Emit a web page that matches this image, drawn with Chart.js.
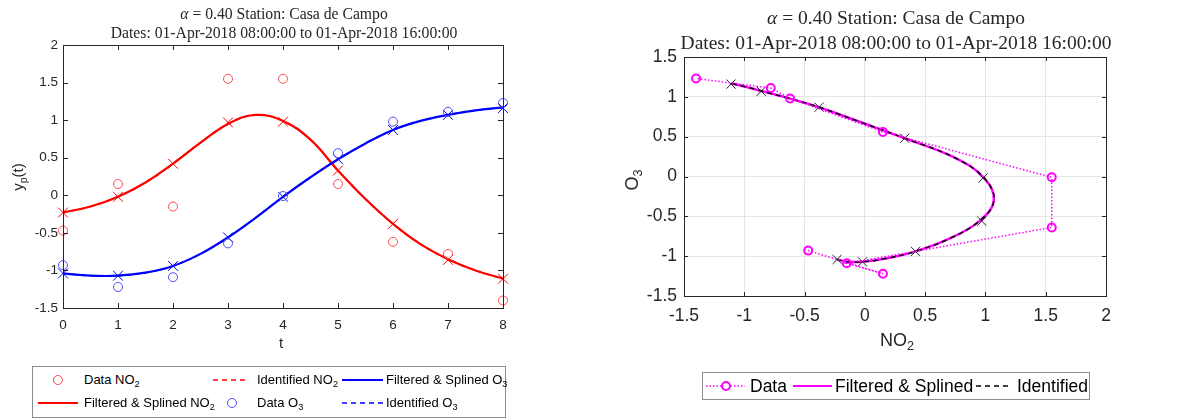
<!DOCTYPE html>
<html>
<head>
<meta charset="utf-8">
<script src="https://cdn.jsdelivr.net/npm/chart.js@4.4.1/dist/chart.umd.min.js"></script>
<style>
  body { margin: 0; background: #fff; width: 1185px; height: 419px; position: relative; overflow: hidden; font-family: "Liberation Sans", Arial, sans-serif; color: #262626; }
  canvas { position: absolute; }
  .ttl { position: absolute; font-family: "Liberation Serif", "Times New Roman", serif; color: #262626; text-align: center; white-space: nowrap; transform: translateX(-50%); }
  .lbl { position: absolute; white-space: nowrap; color: #262626; font-weight: normal; }
  .lbl sub { font-size: 70%; vertical-align: -0.35em; line-height: 0; }
  .rot { width: 60px; height: 20px; line-height: 20px; text-align: center; transform: rotate(-90deg); transform-origin: 30px 10px; }
  .legend { position: absolute; border: 1px solid #8c8c8c; background: #fff; }
  .item { position: absolute; white-space: nowrap; color: #000; display: flex; align-items: center; }
  .item sub { font-size: 70%; vertical-align: -0.35em; line-height: 0; }
</style>
</head>
<body>
<canvas id="leftChart" width="540" height="360" style="left:0;top:0"></canvas>
<canvas id="rightChart" width="585" height="360" style="left:600px;top:0"></canvas>

<!-- titles -->
<div class="ttl" style="left:284px;top:4px;font-size:15.7px;line-height:19px"><i>α</i> = 0.40 Station: Casa de Campo<br>Dates: 01-Apr-2018 08:00:00 to 01-Apr-2018 16:00:00</div>
<div class="ttl" style="left:896px;top:5px;font-size:19.5px;line-height:25px"><i>α</i> = 0.40 Station: Casa de Campo<br>Dates: 01-Apr-2018 08:00:00 to 01-Apr-2018 16:00:00</div>

<!-- axis labels -->
<div class="lbl" style="left:279px;top:334px;font-size:15px">t</div>
<div class="lbl rot" style="left:-12px;top:167px;font-size:15px">y<sub>p</sub>(t)</div>
<div class="lbl" style="left:880px;top:330px;font-size:18px">NO<sub>2</sub></div>
<div class="lbl rot" style="left:602px;top:170px;font-size:18px">O<sub>3</sub></div>

<!-- left legend -->
<div class="legend" style="left:32px;top:366px;width:472px;height:50px">
  <div class="item" style="left:4px;top:5px;font-size:13px"><svg width="44" height="14"><circle cx="21" cy="7" r="4.5" fill="none" stroke="#ff4d4d" stroke-width="1"/></svg><span style="margin-left:3px">Data NO<sub>2</sub></span></div>
  <div class="item" style="left:4px;top:28px;font-size:13px"><svg width="44" height="14"><line x1="1" y1="7" x2="41" y2="7" stroke="#ff0000" stroke-width="2"/></svg><span style="margin-left:3px">Filtered &amp; Splined NO<sub>2</sub></span></div>
  <div class="item" style="left:180px;top:5px;font-size:13px"><svg width="40" height="14"><line x1="0" y1="7" x2="36" y2="7" stroke="#ff0000" stroke-width="1.5" stroke-dasharray="5,4"/></svg><span style="margin-left:4px">Identified NO<sub>2</sub></span></div>
  <div class="item" style="left:180px;top:28px;font-size:13px"><svg width="40" height="14"><circle cx="19" cy="7" r="4.5" fill="none" stroke="#4d4dff" stroke-width="1"/></svg><span style="margin-left:4px">Data O<sub>3</sub></span></div>
  <div class="item" style="left:308px;top:5px;font-size:13px"><svg width="44" height="14"><line x1="1" y1="7" x2="42" y2="7" stroke="#0000ff" stroke-width="2"/></svg><span style="margin-left:1px">Filtered &amp; Splined O<sub>3</sub></span></div>
  <div class="item" style="left:308px;top:28px;font-size:13px"><svg width="44" height="14"><line x1="1" y1="7" x2="42" y2="7" stroke="#0000ff" stroke-width="1.5" stroke-dasharray="5,4"/></svg><span style="margin-left:1px">Identified O<sub>3</sub></span></div>
</div>

<!-- right legend -->
<div class="legend" style="left:702px;top:372px;width:386px;height:26px">
  <div class="item" style="left:3px;top:2px;font-size:17.5px"><svg width="40" height="22"><line x1="0" y1="11" x2="39" y2="11" stroke="#ff00ff" stroke-width="1.5" stroke-dasharray="1.5,2"/><circle cx="20" cy="11" r="4" fill="#fff" stroke="#ff00ff" stroke-width="2"/></svg><span style="margin-left:4px">Data</span></div>
  <div class="item" style="left:89px;top:2px;font-size:17.5px"><svg width="42" height="22"><line x1="1" y1="11" x2="40" y2="11" stroke="#ff00ff" stroke-width="2"/></svg><span style="margin-left:1px">Filtered &amp; Splined</span></div>
  <div class="item" style="left:272px;top:2px;font-size:17.5px"><svg width="40" height="22"><line x1="1" y1="11" x2="35" y2="11" stroke="#000" stroke-width="1.5" stroke-dasharray="5,4"/></svg><span style="margin-left:2px">Identified</span></div>
</div>

<script>
// values
const tSteps = [0, 1, 2, 3, 4, 5, 6, 7, 8];
const no2Data = [-0.47, 0.15, -0.15, 1.55, 1.55, 0.15, -0.62, -0.78, -1.40];
const o3Data = [-0.93, -1.22, -1.09, -0.64, -0.01, 0.56, 0.98, 1.11, 1.23];
const no2Ident = [-0.23, -0.02, 0.42, 0.97, 0.98, 0.33, -0.38, -0.86, -1.11];
const o3Ident = [-1.04, -1.07, -0.94, -0.56, -0.02, 0.48, 0.87, 1.07, 1.16];

// splined curve, read every half step
const tFine = [0, 0.5, 1, 1.5, 2, 2.5, 3, 3.5, 4, 4.5, 5, 5.5, 6, 6.5, 7, 7.5, 8];
const no2Spline = [-0.23, -0.15, -0.02, 0.17, 0.42, 0.70, 0.95, 1.07, 0.99, 0.74, 0.33, -0.05, -0.38, -0.65, -0.85, -1.00, -1.11];
const o3Spline = [-1.04, -1.07, -1.07, -1.03, -0.94, -0.78, -0.56, -0.30, -0.02, 0.24, 0.48, 0.69, 0.87, 0.99, 1.07, 1.13, 1.17];

const xTicksLeft = [0, 1, 2, 3, 4, 5, 6, 7, 8];
const yTicksLeft = [-1.5, -1, -0.5, 0, 0.5, 1, 1.5, 2];
const xTicksRight = [-1.5, -1, -0.5, 0, 0.5, 1, 1.5, 2];
const yTicksRight = [-1.5, -1, -0.5, 0, 0.5, 1, 1.5];

const AXIS = '#262626';
const pair = (xs, ys) => xs.map((x, i) => ({ x: x, y: ys[i] }));
const plain = v => String(v);

// matlab style box with inward ticks
const boxPlugin = {
    id: 'box',
    afterDatasetsDraw(chart, args, opts) {
        const { ctx, chartArea: a, scales } = chart;
        const L = opts.len || 5;
        ctx.save();
        ctx.strokeStyle = AXIS;
        ctx.lineWidth = 1;
        ctx.beginPath();
        scales.x.ticks.forEach(t => {
            const px = Math.round(scales.x.getPixelForValue(t.value)) + 0.5;
            ctx.moveTo(px, a.bottom); ctx.lineTo(px, a.bottom - L);
            ctx.moveTo(px, a.top); ctx.lineTo(px, a.top + L);
        });
        scales.y.ticks.forEach(t => {
            const py = Math.round(scales.y.getPixelForValue(t.value)) + 0.5;
            ctx.moveTo(a.left, py); ctx.lineTo(a.left + L, py);
            ctx.moveTo(a.right, py); ctx.lineTo(a.right - L, py);
        });
        ctx.stroke();
        ctx.strokeRect(Math.round(a.left) + 0.5, Math.round(a.top) + 0.5, Math.round(a.width), Math.round(a.height));
        ctx.restore();
    }
};

function ticksFrom(list) {
    return function (scale) {
        scale.ticks = list.map(v => ({ value: v }));
    };
}

// left chart: time series
const ctxL = document.getElementById('leftChart').getContext('2d');
new Chart(ctxL, {
    type: 'scatter',
    data: {
        datasets: [
            { label: 'Data NO2', data: pair(tSteps, no2Data), showLine: false, pointStyle: 'circle', pointRadius: 4.5, borderWidth: 1, borderColor: '#ff4d4d', backgroundColor: 'rgba(0,0,0,0)', clip: false, order: 1 },
            { label: 'Filtered & Splined NO2', data: pair(tFine, no2Spline), showLine: true, tension: 0.4, pointRadius: 0, borderWidth: 2.2, borderColor: '#ff0000', order: 4 },
            { label: 'Identified NO2', data: pair(tFine, no2Spline), showLine: true, tension: 0.4, pointRadius: 0, borderWidth: 1.5, borderDash: [5, 4], borderColor: '#ff0000', order: 6 },
            { label: 'id NO2 marks', data: pair(tSteps, no2Ident), showLine: false, pointStyle: 'crossRot', pointRadius: 7, borderWidth: 1, borderColor: '#ff0000', clip: false, order: 2 },
            { label: 'Data O3', data: pair(tSteps, o3Data), showLine: false, pointStyle: 'circle', pointRadius: 4.5, borderWidth: 1, borderColor: '#4d4dff', backgroundColor: 'rgba(0,0,0,0)', clip: false, order: 1 },
            { label: 'Filtered & Splined O3', data: pair(tFine, o3Spline), showLine: true, tension: 0.4, pointRadius: 0, borderWidth: 2.2, borderColor: '#0000ff', order: 3 },
            { label: 'Identified O3', data: pair(tFine, o3Spline), showLine: true, tension: 0.4, pointRadius: 0, borderWidth: 1.5, borderDash: [5, 4], borderColor: '#0000ff', order: 5 },
            { label: 'id O3 marks', data: pair(tSteps, o3Ident), showLine: false, pointStyle: 'crossRot', pointRadius: 7, borderWidth: 1, borderColor: '#0000ff', clip: false, order: 2 }
        ]
    },
    options: {
        responsive: false,
        animation: false,
        layout: { padding: { top: 45, right: 37, left: 0, bottom: 0 } },
        plugins: { legend: { display: false }, tooltip: { enabled: false }, box: { len: 5 } },
        scales: {
            x: {
                type: 'linear', min: 0, max: 8,
                afterBuildTicks: ticksFrom(xTicksLeft),
                afterFit: s => { s.height = 52; },
                grid: { display: false, drawTicks: false },
                border: { display: false },
                ticks: { color: AXIS, font: { family: 'Liberation Sans', size: 13.5 }, padding: 9, maxRotation: 0, autoSkip: false, callback: plain }
            },
            y: {
                type: 'linear', min: -1.5, max: 2,
                afterBuildTicks: ticksFrom(yTicksLeft),
                afterFit: s => { s.width = 63; },
                grid: { display: false, drawTicks: false },
                border: { display: false },
                ticks: { color: AXIS, font: { family: 'Liberation Sans', size: 13.5 }, padding: 5, autoSkip: false, callback: plain }
            }
        }
    },
    plugins: [boxPlugin]
});

// right chart: phase plane
const ctxR = document.getElementById('rightChart').getContext('2d');
new Chart(ctxR, {
    type: 'scatter',
    data: {
        datasets: [
            { label: 'Data', data: pair(no2Data, o3Data), showLine: true, tension: 0, borderColor: '#ff00ff', borderWidth: 1.5, borderDash: [1.5, 2], pointStyle: 'circle', pointRadius: 4, pointBorderWidth: 2, pointBackgroundColor: 'rgba(0,0,0,0)', pointBorderColor: '#ff00ff', clip: false, order: 1 },
            { label: 'Filtered & Splined', data: pair(no2Spline, o3Spline), showLine: true, tension: 0.4, pointRadius: 0, borderWidth: 2.5, borderColor: '#ff00ff', order: 4 },
            { label: 'Identified', data: pair(no2Spline, o3Spline), showLine: true, tension: 0.4, pointRadius: 0, borderWidth: 1.5, borderDash: [5, 4], borderColor: '#000000', order: 3 },
            { label: 'id marks', data: pair(no2Ident, o3Ident), showLine: false, pointStyle: 'crossRot', pointRadius: 6.5, borderWidth: 1, borderColor: '#262626', clip: false, order: 2 }
        ]
    },
    options: {
        responsive: false,
        animation: false,
        layout: { padding: { top: 57, right: 79, left: 0, bottom: 0 } },
        plugins: { legend: { display: false }, tooltip: { enabled: false }, box: { len: 4 } },
        scales: {
            x: {
                type: 'linear', min: -1.5, max: 2,
                afterBuildTicks: ticksFrom(xTicksRight),
                afterFit: s => { s.height = 64; },
                grid: { color: '#e6e6e6', drawTicks: false },
                border: { display: false },
                ticks: { color: AXIS, font: { family: 'Liberation Sans', size: 17.5 }, padding: 10, maxRotation: 0, autoSkip: false, callback: plain }
            },
            y: {
                type: 'linear', min: -1.5, max: 1.5,
                afterBuildTicks: ticksFrom(yTicksRight),
                afterFit: s => { s.width = 84; },
                grid: { color: '#e6e6e6', drawTicks: false },
                border: { display: false },
                ticks: { color: AXIS, font: { family: 'Liberation Sans', size: 17.5 }, padding: 7, autoSkip: false, callback: plain }
            }
        }
    },
    plugins: [boxPlugin]
});
</script>
</body>
</html>
